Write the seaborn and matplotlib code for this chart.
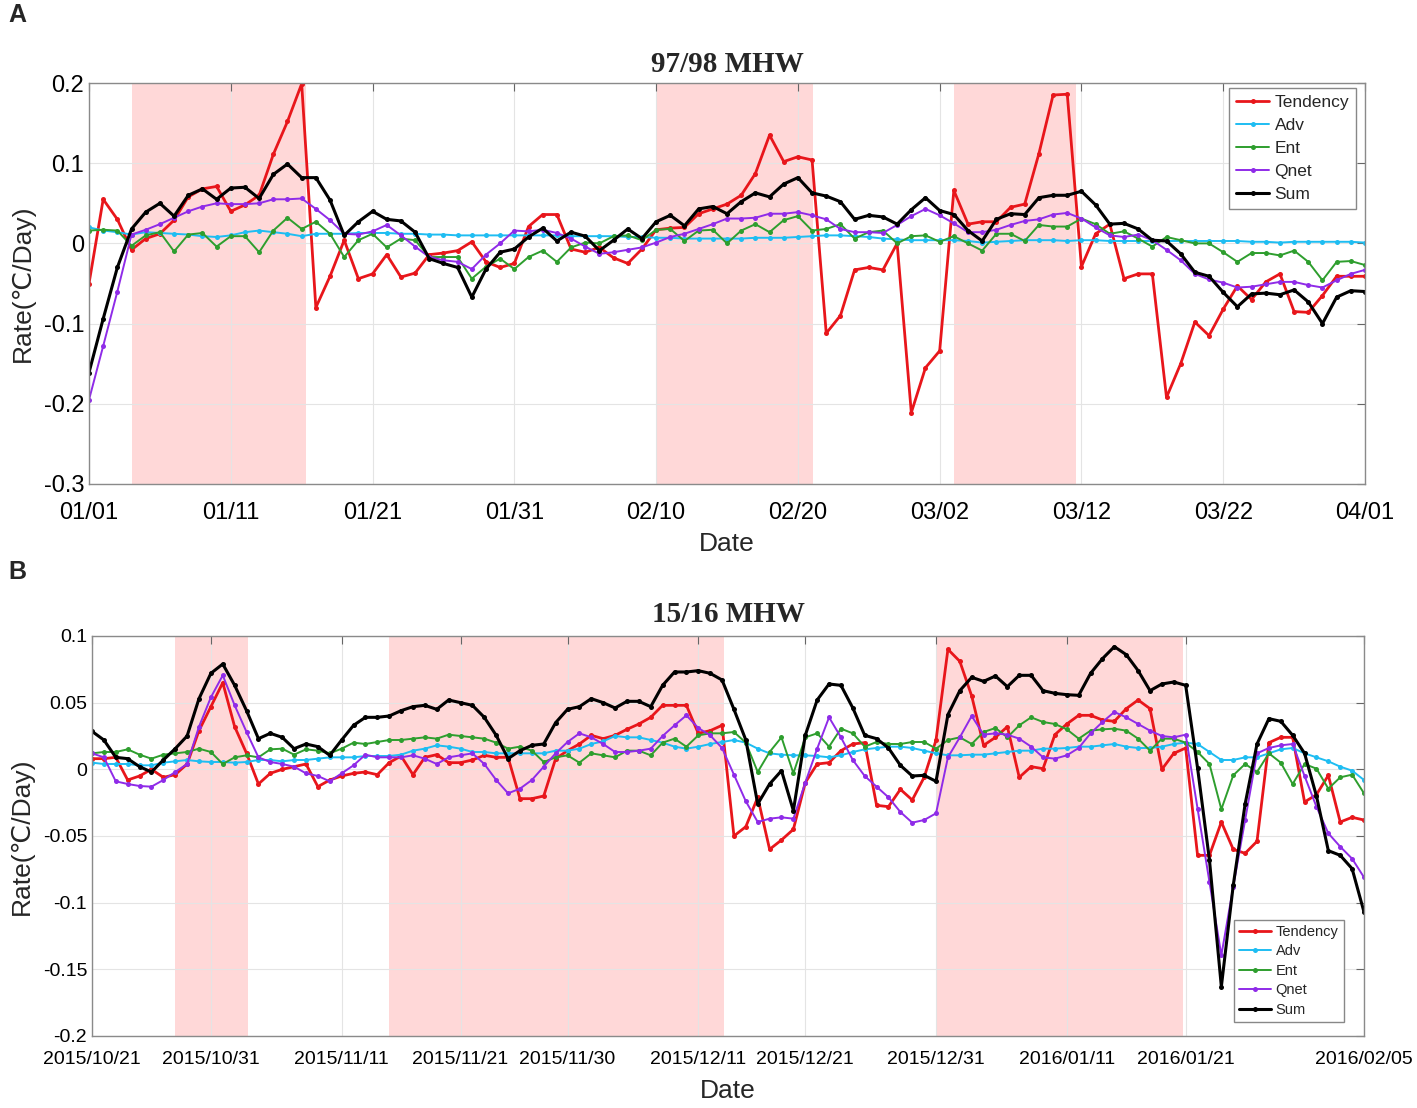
import numpy as np
import pandas as pd
import matplotlib
matplotlib.use('Agg')
import matplotlib.pyplot as plt
import seaborn as sns

sns.set_style("white")
plt.rcParams['font.family'] = ['Liberation Sans', 'DejaVu Sans']

# ---------------- Panel A: 97/98 MHW (daily, 01/01 - 04/01) ----------------
days_a = np.arange(91)
ticks_a = [0, 10, 20, 30, 40, 50, 60, 70, 80, 90]
ticklabels_a = ['01/01', '01/11', '01/21', '01/31', '02/10', '02/20',
                '03/02', '03/12', '03/22', '04/01']
spans_a = [(3.0, 15.3), (40.0, 51.1), (61.0, 69.6)]

tend_a = [-0.050, 0.055, 0.030, -0.008, 0.006, 0.012, 0.029, 0.058, 0.068, 0.071,
          0.040, 0.048, 0.060, 0.111, 0.152, 0.199, -0.080, -0.041, 0.004, -0.044,
          -0.038, -0.014, -0.042, -0.037, -0.014, -0.012, -0.009, 0.002, -0.023, -0.030,
          -0.025, 0.021, 0.036, 0.036, -0.007, -0.011, -0.005, -0.018, -0.025, -0.007,
          0.017, 0.019, 0.020, 0.037, 0.043, 0.049, 0.060, 0.087, 0.135, 0.102,
          0.108, 0.104, -0.112, -0.090, -0.033, -0.030, -0.033, 0.000, -0.211, -0.155,
          -0.134, 0.066, 0.024, 0.027, 0.027, 0.045, 0.049, 0.112, 0.185, 0.186,
          -0.029, 0.012, 0.024, -0.044, -0.038, -0.038, -0.192, -0.150, -0.098, -0.115,
          -0.082, -0.053, -0.070, -0.048, -0.038, -0.085, -0.086, -0.065, -0.041, -0.041,
          -0.041]
adv_a = [0.020, 0.016, 0.014, 0.011, 0.014, 0.013, 0.012, 0.011, 0.009, 0.008,
         0.010, 0.014, 0.016, 0.014, 0.012, 0.009, 0.012, 0.012, 0.012, 0.013,
         0.013, 0.013, 0.012, 0.012, 0.011, 0.011, 0.010, 0.010, 0.010, 0.010,
         0.010, 0.010, 0.010, 0.010, 0.009, 0.009, 0.009, 0.009, 0.008, 0.008,
         0.007, 0.007, 0.006, 0.006, 0.006, 0.006, 0.006, 0.007, 0.007, 0.007,
         0.008, 0.009, 0.010, 0.010, 0.009, 0.008, 0.006, 0.005, 0.004, 0.004,
         0.004, 0.004, 0.003, 0.001, 0.002, 0.003, 0.004, 0.004, 0.004, 0.003,
         0.004, 0.004, 0.003, 0.003, 0.003, 0.003, 0.003, 0.003, 0.003, 0.003,
         0.003, 0.003, 0.002, 0.002, 0.001, 0.002, 0.002, 0.002, 0.002, 0.002,
         0.001]
ent_a = [0.016, 0.017, 0.016, -0.003, 0.010, 0.014, -0.010, 0.011, 0.013, -0.004,
         0.009, 0.009, -0.011, 0.016, 0.032, 0.018, 0.027, 0.012, -0.017, 0.004,
         0.012, -0.005, 0.006, 0.004, -0.017, -0.017, -0.017, -0.044, -0.029, -0.019,
         -0.032, -0.017, -0.009, -0.023, -0.005, 0.001, 0.000, 0.009, 0.010, 0.004,
         0.017, 0.018, 0.003, 0.016, 0.017, 0.000, 0.016, 0.024, 0.014, 0.029,
         0.034, 0.016, 0.018, 0.024, 0.006, 0.014, 0.016, 0.000, 0.009, 0.010,
         0.002, 0.009, 0.000, -0.009, 0.012, 0.012, 0.003, 0.023, 0.021, 0.021,
         0.031, 0.024, 0.012, 0.015, 0.006, -0.004, 0.008, 0.004, 0.000, 0.000,
         -0.011, -0.023, -0.012, -0.012, -0.015, -0.009, -0.023, -0.046, -0.023, -0.022,
         -0.027]
qnet_a = [-0.195, -0.128, -0.060, 0.011, 0.017, 0.024, 0.032, 0.040, 0.046, 0.050,
          0.049, 0.049, 0.050, 0.055, 0.055, 0.056, 0.043, 0.029, 0.012, 0.011,
          0.015, 0.023, 0.010, -0.004, -0.017, -0.021, -0.023, -0.032, -0.014, 0.000,
          0.016, 0.015, 0.017, 0.013, 0.006, -0.004, -0.013, -0.011, -0.008, -0.005,
          0.001, 0.008, 0.012, 0.018, 0.024, 0.031, 0.031, 0.032, 0.037, 0.037,
          0.039, 0.035, 0.030, 0.018, 0.014, 0.014, 0.013, 0.023, 0.034, 0.043,
          0.035, 0.025, 0.014, 0.014, 0.017, 0.023, 0.028, 0.030, 0.036, 0.038,
          0.031, 0.020, 0.010, 0.008, 0.011, 0.004, -0.008, -0.021, -0.038, -0.045,
          -0.049, -0.055, -0.054, -0.051, -0.048, -0.048, -0.052, -0.055, -0.046, -0.038,
          -0.033]
sum_a = [-0.161, -0.094, -0.030, 0.018, 0.039, 0.050, 0.034, 0.060, 0.068, 0.055,
         0.069, 0.070, 0.056, 0.086, 0.099, 0.082, 0.082, 0.054, 0.010, 0.027,
         0.040, 0.030, 0.028, 0.014, -0.019, -0.025, -0.030, -0.067, -0.032, -0.011,
         -0.007, 0.008, 0.019, 0.003, 0.014, 0.009, -0.009, 0.004, 0.018, 0.006,
         0.027, 0.035, 0.022, 0.043, 0.046, 0.037, 0.052, 0.063, 0.058, 0.074,
         0.082, 0.063, 0.059, 0.052, 0.030, 0.035, 0.033, 0.024, 0.042, 0.057,
         0.041, 0.036, 0.016, 0.003, 0.030, 0.037, 0.036, 0.057, 0.060, 0.060,
         0.065, 0.048, 0.024, 0.025, 0.018, 0.004, 0.003, -0.013, -0.036, -0.041,
         -0.061, -0.079, -0.063, -0.062, -0.064, -0.058, -0.073, -0.100, -0.067, -0.059,
         -0.060]

# ---------------- Panel B: 15/16 MHW (daily, 2015/10/21 - 2016/02/05) ----------------
days_b = np.arange(108)
ticks_b = [0, 10, 21, 31, 40, 51, 60, 71, 82, 92, 107]
ticklabels_b = ['2015/10/21', '2015/10/31', '2015/11/11', '2015/11/21', '2015/11/30',
                '2015/12/11', '2015/12/21', '2015/12/31', '2016/01/11', '2016/01/21',
                '2016/02/05']
spans_b = [(7.0, 13.1), (25.0, 53.2), (71.0, 91.8)]

tend_b = [0.008, 0.008, 0.009, -0.008, -0.005, 0.000, -0.006, -0.004, 0.004, 0.029,
          0.047, 0.065, 0.032, 0.012, -0.011, -0.003, 0.000, 0.002, 0.004, -0.013,
          -0.008, -0.005, -0.003, -0.002, -0.004, 0.005, 0.010, -0.004, 0.009, 0.011,
          0.005, 0.005, 0.007, 0.0105, 0.009, 0.009, -0.022, -0.022, -0.020, 0.008,
          0.014, 0.019, 0.0255, 0.023, 0.0255, 0.030, 0.034, 0.039, 0.048, 0.048,
          0.048, 0.027, 0.029, 0.033, -0.050, -0.043, -0.021, -0.060, -0.053, -0.045,
          -0.010, 0.004, 0.005, 0.014, 0.019, 0.020, -0.027, -0.028, -0.015, -0.023,
          -0.006, 0.022, 0.090, 0.081, 0.055, 0.018, 0.024, 0.032, -0.006, 0.002,
          0.0005, 0.026, 0.034, 0.0405, 0.0405, 0.037, 0.036, 0.0455, 0.052, 0.0455,
          0.000, 0.012, 0.016, -0.0645, -0.0645, -0.0395, -0.060, -0.063, -0.054, 0.020,
          0.024, 0.024, -0.0245, -0.019, -0.0045, -0.0395, -0.036, -0.038]
adv_b = [0.005, 0.004, 0.004, 0.004, 0.003, 0.003, 0.005, 0.006, 0.007, 0.006,
         0.0055, 0.0055, 0.005, 0.0055, 0.007, 0.007, 0.006, 0.007, 0.007, 0.008,
         0.009, 0.009, 0.009, 0.010, 0.010, 0.010, 0.011, 0.014, 0.0155, 0.018,
         0.017, 0.0155, 0.013, 0.013, 0.012, 0.012, 0.012, 0.012, 0.012, 0.014,
         0.014, 0.0155, 0.019, 0.021, 0.025, 0.024, 0.024, 0.022, 0.020, 0.017,
         0.0155, 0.017, 0.019, 0.0205, 0.022, 0.020, 0.0155, 0.012, 0.011, 0.0105,
         0.0105, 0.010, 0.009, 0.0105, 0.013, 0.015, 0.016, 0.017, 0.017, 0.016,
         0.014, 0.012, 0.0105, 0.0105, 0.011, 0.011, 0.012, 0.013, 0.014, 0.014,
         0.0155, 0.0155, 0.016, 0.017, 0.017, 0.018, 0.019, 0.017, 0.016, 0.016,
         0.017, 0.019, 0.020, 0.019, 0.013, 0.007, 0.007, 0.009, 0.009, 0.012,
         0.015, 0.016, 0.012, 0.009, 0.006, 0.002, -0.001, -0.008]
ent_b = [0.012, 0.013, 0.013, 0.015, 0.011, 0.008, 0.011, 0.012, 0.013, 0.0155,
         0.013, 0.004, 0.009, 0.0105, 0.009, 0.015, 0.0155, 0.011, 0.015, 0.014,
         0.012, 0.0155, 0.020, 0.019, 0.0205, 0.022, 0.022, 0.023, 0.024, 0.023,
         0.026, 0.025, 0.024, 0.023, 0.020, 0.0155, 0.017, 0.014, 0.0055, 0.009,
         0.0105, 0.005, 0.012, 0.0105, 0.009, 0.014, 0.014, 0.0105, 0.020, 0.023,
         0.017, 0.0255, 0.027, 0.027, 0.028, 0.020, -0.002, 0.013, 0.024, -0.003,
         0.024, 0.027, 0.017, 0.0305, 0.027, 0.017, 0.0205, 0.019, 0.019, 0.0205,
         0.0205, 0.0155, 0.022, 0.024, 0.019, 0.028, 0.031, 0.024, 0.033, 0.039,
         0.0355, 0.034, 0.030, 0.023, 0.029, 0.030, 0.0305, 0.029, 0.023, 0.014,
         0.023, 0.023, 0.020, 0.013, 0.004, -0.030, -0.0045, 0.004, -0.002, 0.012,
         0.005, -0.011, 0.004, 0.0005, -0.0145, -0.006, -0.004, -0.018]
qnet_b = [0.012, 0.009, -0.009, -0.011, -0.0125, -0.013, -0.008, -0.002, 0.004, 0.032,
          0.054, 0.0705, 0.048, 0.028, 0.009, 0.0055, 0.004, 0.002, -0.003, -0.005,
          -0.009, -0.003, 0.003, 0.011, 0.009, 0.009, 0.009, 0.0105, 0.008, 0.004,
          0.009, 0.0105, 0.012, 0.004, -0.008, -0.018, -0.0145, -0.008, 0.002, 0.012,
          0.0205, 0.027, 0.024, 0.019, 0.013, 0.013, 0.014, 0.0155, 0.025, 0.033,
          0.0405, 0.031, 0.0255, 0.016, -0.004, -0.024, -0.0395, -0.037, -0.036, -0.037,
          -0.010, 0.0155, 0.039, 0.024, 0.007, -0.005, -0.013, -0.021, -0.032, -0.040,
          -0.038, -0.033, 0.009, 0.024, 0.040, 0.026, 0.027, 0.026, 0.023, 0.017,
          0.009, 0.008, 0.0105, 0.016, 0.027, 0.0355, 0.043, 0.039, 0.034, 0.029,
          0.025, 0.024, 0.026, -0.0295, -0.0845, -0.1395, -0.088, -0.038, 0.012, 0.016,
          0.018, 0.019, -0.005, -0.028, -0.048, -0.058, -0.067, -0.081]
sum_b = [0.0285, 0.022, 0.009, 0.008, 0.002, -0.002, 0.007, 0.0155, 0.025, 0.053,
         0.072, 0.079, 0.063, 0.044, 0.023, 0.027, 0.024, 0.0155, 0.019, 0.017,
         0.0105, 0.022, 0.033, 0.039, 0.039, 0.040, 0.044, 0.047, 0.048, 0.045,
         0.052, 0.050, 0.048, 0.039, 0.0255, 0.008, 0.014, 0.018, 0.019, 0.035,
         0.045, 0.047, 0.053, 0.050, 0.046, 0.051, 0.051, 0.047, 0.063, 0.073,
         0.073, 0.074, 0.072, 0.067, 0.045, 0.022, -0.026, -0.011, -0.001, -0.031,
         0.0255, 0.052, 0.064, 0.063, 0.046, 0.0255, 0.023, 0.016, 0.003, -0.005,
         -0.0045, -0.009, 0.041, 0.059, 0.069, 0.066, 0.070, 0.062, 0.0705, 0.0705,
         0.059, 0.057, 0.056, 0.0555, 0.072, 0.083, 0.092, 0.086, 0.074, 0.059,
         0.064, 0.0655, 0.063, 0.001, -0.068, -0.163, -0.087, -0.026, 0.019, 0.038,
         0.036, 0.0255, 0.012, -0.020, -0.061, -0.0645, -0.0745, -0.107]

names = ['Tendency', 'Adv', 'Ent', 'Qnet', 'Sum']
colors = ['#E8161B', '#1EBDF2', '#2E9E2E', '#8F2BE8', '#000000']
widths = [2.0, 1.4, 1.4, 1.4, 2.2]

W, H = 1417, 1108
fig = plt.figure(figsize=(W / 100, H / 100), dpi=100)
ax_a = fig.add_axes([89 / W, 1 - 484 / H, 1276 / W, 401 / H])
ax_b = fig.add_axes([92 / W, 1 - 1036 / H, 1272 / W, 400 / H])


def draw_panel(ax, days, series, spans):
    for s0, s1 in spans:
        ax.axvspan(s0, s1, color='#FFD8D8', lw=0, zorder=0.5)
    for name, vals, c, lw in zip(names, series, colors, widths):
        sns.lineplot(x=days, y=vals, ax=ax, color=c, linewidth=lw, marker='o',
                     markersize=3.6, markeredgewidth=0, label=name,
                     estimator=None, sort=False)
    ax.grid(True, color='#e4e4e4', linewidth=0.8)
    for sp in ax.spines.values():
        sp.set_color('#8a8a8a')
        sp.set_linewidth(1.0)
    ax.tick_params(direction='in', top=True, right=True, length=6,
                   color='#666666', labelcolor='black')


# Panel A
draw_panel(ax_a, days_a, [tend_a, adv_a, ent_a, qnet_a, sum_a], spans_a)
ax_a.set_xlim(0, 90)
ax_a.set_ylim(-0.3, 0.2)
ax_a.set_xticks(ticks_a)
ax_a.set_xticklabels(ticklabels_a, fontsize=17)
ax_a.set_yticks([-0.3, -0.2, -0.1, 0, 0.1, 0.2])
ax_a.set_yticklabels(['-0.3', '-0.2', '-0.1', '0', '0.1', '0.2'], fontsize=17)
ax_a.tick_params(axis='x', pad=13)
ax_a.set_xlabel('Date', fontsize=19, labelpad=6)
ax_a.set_ylabel('Rate(℃/Day)', fontsize=19, labelpad=6)
ax_a.set_title('97/98 MHW', fontsize=21, fontweight='bold',
               family='Liberation Serif', pad=8)
leg = ax_a.legend(loc='upper right', bbox_to_anchor=(0.993, 0.988), fontsize=12.5,
                  frameon=True, fancybox=False, framealpha=1, edgecolor='#888888',
                  handlelength=1.9, handletextpad=0.3, labelspacing=0.45,
                  borderpad=0.4, borderaxespad=0)
leg.get_frame().set_linewidth(1.0)

# Panel B
draw_panel(ax_b, days_b, [tend_b, adv_b, ent_b, qnet_b, sum_b], spans_b)
ax_b.set_xlim(0, 107)
ax_b.set_ylim(-0.2, 0.1)
ax_b.set_xticks(ticks_b)
ax_b.set_xticklabels(ticklabels_b, fontsize=14)
ax_b.set_yticks([-0.2, -0.15, -0.1, -0.05, 0, 0.05, 0.1])
ax_b.set_yticklabels(['-0.2', '-0.15', '-0.1', '-0.05', '0', '0.05', '0.1'], fontsize=14)
ax_b.tick_params(axis='x', pad=11)
ax_b.set_xlabel('Date', fontsize=19, labelpad=8)
ax_b.set_ylabel('Rate(℃/Day)', fontsize=19, labelpad=6)
ax_b.set_title('15/16 MHW', fontsize=21, fontweight='bold',
               family='Liberation Serif', pad=10)
leg = ax_b.legend(loc='lower right', bbox_to_anchor=(0.984, 0.035), fontsize=10.5,
                  frameon=True, fancybox=False, framealpha=1, edgecolor='#888888',
                  handlelength=2.2, handletextpad=0.3, labelspacing=0.38,
                  borderpad=0.35, borderaxespad=0)
leg.get_frame().set_linewidth(1.0)

fig.text(8 / W, 1 - 15 / H, 'A', fontsize=18, fontweight='bold', va='center')
fig.text(8 / W, 1 - 572 / H, 'B', fontsize=18, fontweight='bold', va='center')

fig.savefig('out.png', dpi=100)
